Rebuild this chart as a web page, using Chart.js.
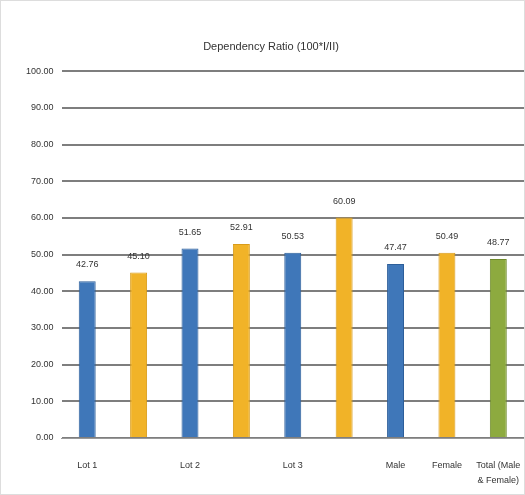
<!DOCTYPE html>
<html><head><meta charset="utf-8">
<script src="https://cdn.jsdelivr.net/npm/chart.js@4/dist/chart.umd.min.js"></script>
<style>html,body{margin:0;padding:0;background:#fff}#wrap{width:525px;height:495px;position:relative;box-sizing:border-box;border:1px solid #ddd}</style>
</head><body><div id="wrap"><canvas id="c"></canvas></div>
<script>
const categories = ["Lot 1", "", "Lot 2", "", "Lot 3", "", "Male", "Female", ["Total (Male", "& Female)"]];
const values = [42.76, 45.10, 51.65, 52.91, 50.53, 60.09, 47.47, 50.49, 48.77];
const valueLabels = ["42.76", "45.10", "51.65", "52.91", "50.53", "60.09", "47.47", "50.49", "48.77"];
const barColors = ["#3f77b9", "#f1b328", "#3f77b9", "#f1b328", "#3f77b9", "#f1b328", "#3f77b9", "#f1b328", "#8daa3f"];
const yTicks = [0, 10, 20, 30, 40, 50, 60, 70, 80, 90, 100];

const labelPlugin = {
  id: 'vals',
  afterDatasetsDraw(chart) {
    const ctx = chart.ctx;
    const meta = chart.getDatasetMeta(0);
    ctx.save();
    ctx.font = '9px "Liberation Sans", Arial, sans-serif';
    ctx.fillStyle = '#333';
    ctx.textAlign = 'center';
    ctx.textBaseline = 'bottom';
    meta.data.forEach((el, i) => {
      ctx.fillText(valueLabels[i], el.x, el.y - 12);
    });
    ctx.restore();
  }
};

new Chart(document.getElementById('c'), {
  type: 'bar',
  data: {
    labels: categories,
    datasets: [{
      data: values,
      backgroundColor: barColors,
      borderColor: barColors.map(c => c === "#f1b328" ? "#d99c1a" : (c === "#8daa3f" ? "#6f8a2c" : "#2d5f9a")),
      borderWidth: 1,
      barPercentage: 0.66,
      categoryPercentage: 0.5
    }]
  },
  options: {
    responsive: true,
    maintainAspectRatio: false,
    animation: false,
    layout: { padding: { top: 33, right: 0, left: 17, bottom: 0 } },
    plugins: {
      legend: { display: false },
      tooltip: { enabled: false },
      title: {
        display: true,
        text: 'Dependency Ratio (100*I/II)',
        color: '#333',
        font: { size: 11, family: '"Liberation Sans", Arial, sans-serif', weight: 'normal' },
        padding: { top: 6, bottom: 18 }
      }
    },
    scales: {
      x: {
        grid: { display: false, drawTicks: false },
        border: { color: '#999', width: 1 },
        afterFit(scale) { scale.height = 56; scale.paddingLeft = 0; scale.paddingRight = 0; },
        ticks: {
          color: '#333',
          maxRotation: 0,
          autoSkip: false,
          padding: 20,
          font: { size: 9, family: '"Liberation Sans", Arial, sans-serif', lineHeight: 1.7 }
        }
      },
      y: {
        min: 0, max: 100,
        afterBuildTicks(axis) { axis.ticks = yTicks.map(v => ({ value: v })); },
        grid: { color: '#7e7e7e', lineWidth: 2, drawTicks: false },
        border: { display: false },
        ticks: {
          color: '#333',
          padding: 8,
          font: { size: 9, family: '"Liberation Sans", Arial, sans-serif' },
          callback: v => v.toFixed(2)
        }
      }
    }
  },
  plugins: [labelPlugin]
});
</script></body></html>
